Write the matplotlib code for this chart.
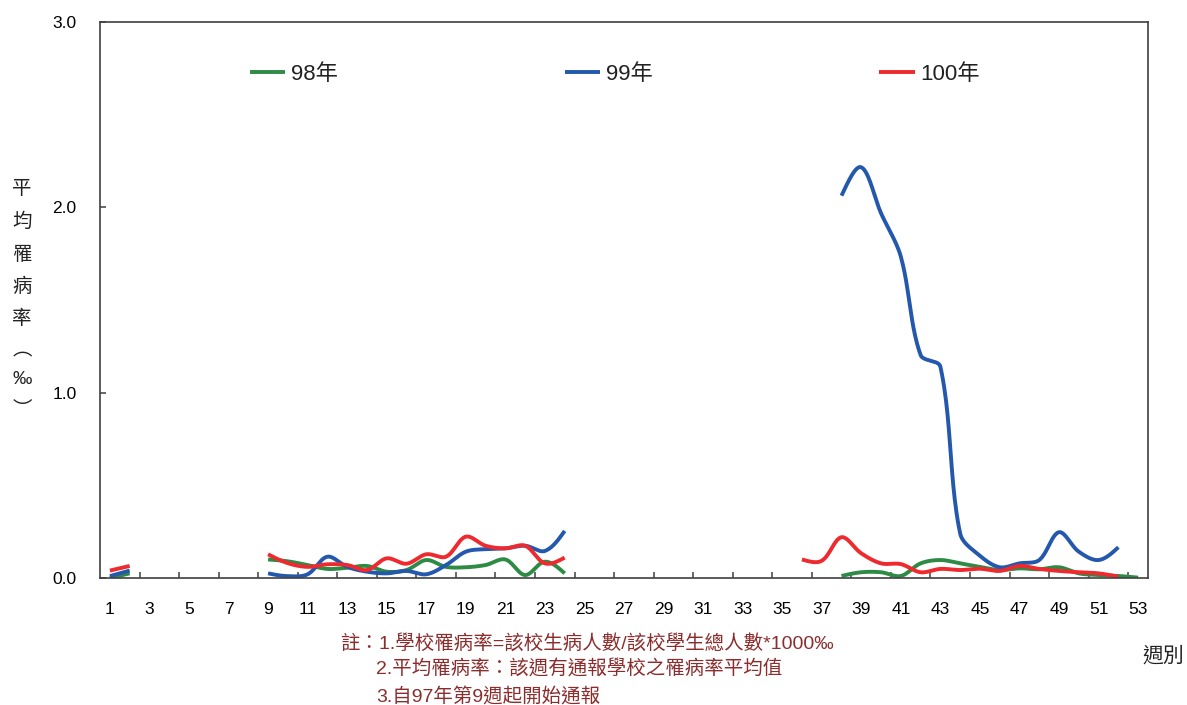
import numpy as np
import matplotlib
matplotlib.use("Agg")
import matplotlib.pyplot as plt

N = np.nan
weeks = list(range(1, 54))

# 98年 (green)
y98 = [0.0, 0.025, N, N, N, N, N, N,
       0.10, 0.09, 0.07, 0.049, 0.055, 0.065, 0.034, 0.043, 0.097, 0.06,
       0.058, 0.07, 0.10, 0.016, 0.088, 0.025,
       N, N, N, N, N, N, N, N, N, N, N, N, N,
       0.011, 0.031, 0.031, 0.011, 0.079, 0.097, 0.079, 0.06, 0.043, 0.052,
       0.047, 0.058, 0.025, 0.016, 0.011, 0.002]
# 99年 (blue)
y99 = [0.01, 0.04, N, N, N, N, N, N,
       0.025, 0.01, 0.02, 0.115, 0.06, 0.034, 0.025, 0.038, 0.02, 0.07,
       0.142, 0.156, 0.16, 0.174, 0.146, 0.254,
       N, N, N, N, N, N, N, N, N, N, N, N, N,
       2.063, 2.216, 1.968, 1.734, 1.203, 1.14, 0.24, 0.12, 0.058, 0.079,
       0.097, 0.247, 0.142, 0.097, 0.166, N]
# 100年 (red)
y100 = [0.04, 0.065, N, N, N, N, N, N,
        0.128, 0.08, 0.06, 0.074, 0.07, 0.043, 0.106, 0.077, 0.128, 0.115,
        0.223, 0.174, 0.16, 0.174, 0.079, 0.11,
        N, N, N, N, N, N, N, N, N, N, N,
        0.10, 0.093, 0.22, 0.133, 0.079, 0.075, 0.031, 0.049, 0.043, 0.05,
        0.038, 0.065, 0.049, 0.038, 0.031, 0.025, 0.007, N]

series_names = ["98年", "99年", "100年"]
series_colors = ["#2E8B45", "#2358AC", "#EE2A2F"]
yticks = [0.0, 1.0, 2.0, 3.0]
xlabels = list(range(1, 54, 2))

notes = ["註：1.學校罹病率=該校生病人數/該校學生總人數*1000‰",
         "2.平均罹病率：該週有通報學校之罹病率平均值",
         "3.自97年第9週起開始通報"]

CJK = ["Noto Sans CJK TC", "DejaVu Sans"]
plt.rcParams["font.family"] = ["Liberation Sans", "Noto Sans CJK TC", "DejaVu Sans"]


def smooth(ax, x, y, n=24):
    """Excel-like smoothing: Bezier with control points scaled by display-space segment lengths."""
    x = np.asarray(x, float)
    y = np.asarray(y, float)
    trans = ax.transData
    inv = trans.inverted()
    outx, outy = [], []
    valid = ~np.isnan(y)
    i = 0
    while i < len(y):
        if not valid[i]:
            i += 1
            continue
        j = i
        while j < len(y) and valid[j]:
            j += 1
        P = trans.transform(np.column_stack([x[i:j], y[i:j]]))
        m = len(P)
        if m == 1:
            outx.append(x[i]); outy.append(y[i])
        else:
            cout = P.copy()
            cin = P.copy()
            for k in range(1, m - 1):
                dp = np.hypot(*(P[k] - P[k - 1]))
                dn = np.hypot(*(P[k + 1] - P[k]))
                T = P[k + 1] - P[k - 1]
                cout[k] = P[k] + T * dn / (dp + dn) / 3
                cin[k] = P[k] - T * dp / (dp + dn) / 3
            if m > 2:
                cout[0] = P[0] + (cin[1] - P[0]) / 2
                cin[-1] = P[-1] + (cout[-2] - P[-1]) / 2
            pts = []
            for k in range(m - 1):
                t = np.linspace(0, 1, n, endpoint=(k == m - 2))[:, None]
                seg = ((1 - t) ** 3) * P[k] + 3 * ((1 - t) ** 2) * t * cout[k] \
                    + 3 * (1 - t) * t ** 2 * cin[k + 1] + t ** 3 * P[k + 1]
                pts.append(seg)
            D = inv.transform(np.vstack(pts))
            outx.extend(D[:, 0]); outy.extend(D[:, 1])
        outx.append(np.nan); outy.append(np.nan)
        i = j
    return outx, outy


fig = plt.figure(figsize=(11.87, 7.05), dpi=100)
ax = fig.add_axes([100 / 1187, 127 / 705, 1048 / 1187, 556 / 705])
ax.set_xlim(0.5, 53.5)
ax.set_ylim(0, 3.0)

handles = []
for name, col, ys in zip(series_names, series_colors, [y98, y99, y100]):
    sx, sy = smooth(ax, weeks, ys)
    h, = ax.plot(sx, sy, color=col, lw=2.8, solid_capstyle="butt", label=name)
    handles.append(h)

ax.set_xlim(0.5, 53.5)
ax.set_ylim(0, 3.0)
ax.set_yticks(yticks)
ax.set_yticklabels([f"{v:.1f}" for v in yticks], fontsize=12.5)
ax.set_xticks(xlabels)
ax.set_xticklabels([str(v) for v in xlabels], fontsize=12.5)
ax.set_xticks(np.arange(2.5, 53, 2), minor=True)
ax.tick_params(axis="x", which="major", length=0, pad=17)
ax.tick_params(axis="x", which="minor", length=4, direction="in", width=1.1, color="#404040")
ax.tick_params(axis="y", which="major", length=4, direction="in", width=1.1, color="#404040", pad=17)
for s in ax.spines.values():
    s.set_color("#404040")
    s.set_linewidth(1.2)

leg = ax.legend(handles=handles, loc="center left", bbox_to_anchor=(0.143, 0.906),
                ncol=3, frameon=False, fontsize=16, handlelength=1.6,
                handletextpad=0.25, columnspacing=10.2, borderpad=0, borderaxespad=0)
for t in leg.get_texts():
    t.set_color("#222222")

# vertical y label
ylab = ["平", "均", "罹", "病", "率", "︵", "‰", "︶"]
ypos = [188, 221, 255, 287, 318, 350, 380, 410]
for ch, yp in zip(ylab, ypos):
    fam = ["Liberation Sans", "DejaVu Sans"] if ch == "‰" else CJK
    fig.text(22 / 1187, 1 - yp / 705, ch, ha="center", va="center",
             fontsize=14, color="#222222", family=fam)

fig.text(1163 / 1187, 1 - 656 / 705, "週別", ha="center", va="center",
         fontsize=15, color="#222222", family=CJK)

note_color = "#8B2D2D"
fig.text(340 / 1187, 1 - 643 / 705, notes[0], ha="left", va="center",
         fontsize=14, color=note_color)
fig.text(376 / 1187, 1 - 669 / 705, notes[1], ha="left", va="center",
         fontsize=14, color=note_color)
fig.text(376 / 1187, 1 - 696 / 705, notes[2], ha="left", va="center",
         fontsize=14, color=note_color)

fig.savefig("out.png", dpi=100)
